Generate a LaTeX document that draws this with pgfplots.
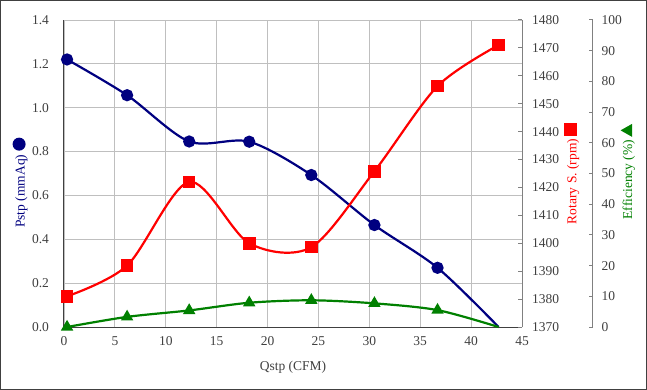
\documentclass[border=0pt]{standalone}
\usepackage{pgfplots}
\pgfplotsset{compat=1.18}
\usepackage{fontspec}
\setmainfont{Liberation Serif}
\definecolor{navyc}{HTML}{000080}
\definecolor{redc}{HTML}{FF0000}
\definecolor{greenc}{HTML}{008000}
\definecolor{gridc}{HTML}{BFBFBF}
\definecolor{tickc}{HTML}{404040}
\definecolor{axc}{HTML}{808080}
\begin{document}
\begin{tikzpicture}
\path[use as bounding box] (-64bp,-63bp) rectangle (583bp,327bp);
\draw[line width=1.2bp, color=tickc] (-63.4bp,-62.4bp) rectangle (582.4bp,326.4bp);
\pgfplotsset{
  base/.style={scale only axis, width=458bp, height=307bp, xmin=0, xmax=45,
    clip=false,
    /pgf/number format/assume math mode=true,
    /pgf/number format/set thousands separator={},
    tick label style={font=\fontsize{13.5bp}{15bp}\selectfont, color=tickc},
    label style={font=\fontsize{13.5bp}{15bp}\selectfont},
    major tick length=4bp, tick align=inside,
  }
}
\begin{axis}[base, ymin=0, ymax=1.4, ytick={0,0.2,...,1.41}, xtick={0,5,...,45},
  grid=major, grid style={gridc, line width=0.8bp},
  axis x line*=bottom, axis y line*=left,
  x axis line style={tickc, line width=1bp},
  y axis line style={tickc, line width=1bp},
  xtick style={draw=none}, ytick style={draw=none},
  yticklabel style={/pgf/number format/.cd, fixed, fixed zerofill, precision=1, /tikz/.cd, xshift=-11.5bp},
  xticklabel style={yshift=-6.5bp},
  xlabel={Qstp (CFM)},
  xlabel style={at={(axis description cs:0.5,0)}, anchor=center, yshift=-40bp, color=tickc},
  ylabel={Pstp (mmAq)\hspace{4bp}\tikz[baseline=-5.5bp]\fill[navyc] (0,0) circle (6.5bp);},
  ylabel style={at={(axis description cs:-0.096,0.47)}, anchor=center, color=navyc},
]
\addplot[navyc, line width=2.2bp, smooth, mark=*, mark size=5bp, mark indices={1,2,3,4,5,6,7},
  mark options={solid}] coordinates {
  (0.3,1.22) (6.2,1.057) (12.3,0.846) (18.2,0.845) (24.3,0.693) (30.5,0.465) (36.7,0.27) (42.7,0.0)
};
\end{axis}
\begin{axis}[base, ymin=1370, ymax=1480, ytick={1370,1380,...,1480},
  axis y line*=right, axis x line=none,
  y axis line style={axc, line width=1bp},
  ytick style={axc, line width=1bp},
  yticklabel style={xshift=6.5bp},
  ylabel={Rotary S. (rpm)\hspace{3bp}\tikz[baseline=-5.5bp]\fill[redc] (-6.5bp,-6.5bp) rectangle (6.5bp,6.5bp);},
  ylabel style={at={(axis description cs:1.109,0.50)}, anchor=center, color=redc},
]
\addplot[redc, line width=2.2bp, smooth, mark=square*, mark size=5.2bp, mark options={solid}] coordinates {
  (0.3,1381) (6.2,1392) (12.3,1422) (18.2,1400) (24.3,1398.6) (30.5,1425.8) (36.7,1456.3) (42.7,1471)
};
\end{axis}
\begin{axis}[base, ymin=0, ymax=100, ytick={0,10,...,100},
  axis y line*=right, axis x line=none,
  y axis line style={axc, line width=1bp, xshift=70.7bp},
  ytick style={axc, line width=1bp, xshift=70.7bp},
  yticklabel style={xshift=76bp},
  ylabel={Efficiency (\%)\hspace{3bp}\tikz[baseline=-5.5bp]\fill[greenc] (-6.5bp,-5.5bp) -- (6.5bp,-5.5bp) -- (0,6bp) -- cycle;},
  ylabel style={at={(axis description cs:1.231,0.506)}, anchor=center, color=greenc},
]
\addplot[greenc, line width=2.2bp, smooth, mark=triangle*, mark size=5bp, mark indices={1,2,3,4,5,6,7},
  mark options={solid}] coordinates {
  (0.3,0) (6.2,3.3) (12.3,5.4) (18.2,7.9) (24.3,8.7) (30.5,7.7) (36.7,5.5) (42.7,0)
};
\end{axis}
\end{tikzpicture}
\end{document}
